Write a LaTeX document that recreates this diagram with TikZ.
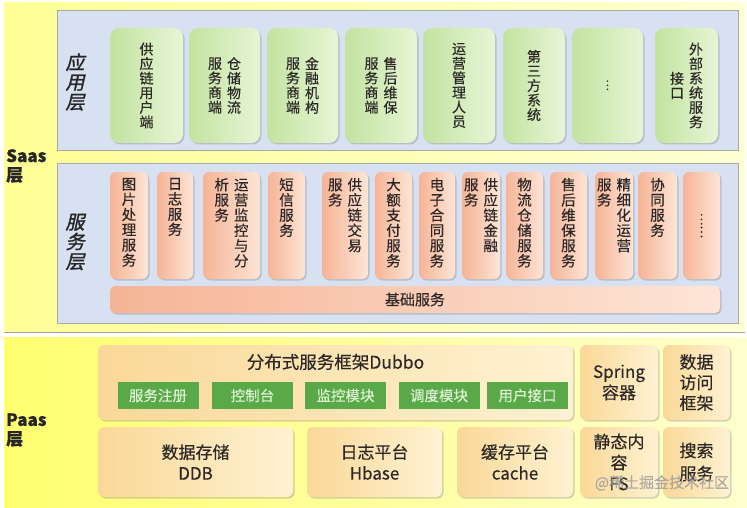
\documentclass[tikz,border=0pt]{standalone}
\usepackage{fontspec}
\setmainfont{Noto Sans CJK SC}[FakeBold=0.4]
\newfontfamily\layerfont[FakeSlant=0.22,FakeBold=1.5]{Noto Sans CJK SC}
\usetikzlibrary{shadows}

\definecolor{saasA}{HTML}{FFFF96}
\definecolor{saasB}{HTML}{FFFFD4}
\definecolor{paasA}{HTML}{FFFF70}
\definecolor{paasB}{HTML}{FFFFD0}
\definecolor{panelfill}{HTML}{D8E1F1}
\definecolor{panelline}{HTML}{A4ACA4}
\definecolor{appA}{HTML}{C3E3A0}
\definecolor{appB}{HTML}{E7F5D6}
\definecolor{svcA}{HTML}{F6B496}
\definecolor{svcB}{HTML}{FDE5D7}
\definecolor{pboxA}{HTML}{FAD898}
\definecolor{pboxB}{HTML}{FFF2D2}
\definecolor{modgreen}{HTML}{5AA948}
\definecolor{modtext}{HTML}{DDF2D2}
\definecolor{txtgray}{HTML}{2C2828}

\makeatletter
\def\vc@loop#1{\ifx#1\relax\else\hbox to 1em{\hss#1\hss}\expandafter\vc@loop\fi}
\newcommand\vmid[1]{$\vcenter{\baselineskip=1.04em\vc@loop#1\relax}$}
\newcommand\vtopc[1]{\vtop{\baselineskip=1.05em\vc@loop#1\relax}}
\makeatother

\begin{document}
\begin{tikzpicture}[x=1pt, y=-1pt,
  shade/.style={drop shadow={shadow xshift=1.5pt, shadow yshift=-1.5pt, opacity=0.35}},
  panel/.style={fill=panelfill, draw=panelline, line width=0.8pt},
  appbox/.style={shade, rounded corners=9pt, left color=appA, right color=appB, inner sep=0pt,
    minimum height=115pt, text=txtgray, font=\fontsize{14}{14.5}\selectfont},
  svcbox/.style={shade, rounded corners=6pt, left color=svcA, right color=svcB, inner sep=0pt,
    minimum height=107pt, text=txtgray, font=\fontsize{14.5}{15.3}\selectfont},
  svctext/.style={inner sep=0pt, text=txtgray, font=\fontsize{14.5}{15.3}\selectfont},
  pbox/.style={shade, rounded corners=6pt, left color=pboxA, right color=pboxB, inner sep=0pt,
    align=center, text=txtgray, font=\fontsize{17}{21}\selectfont},
  module/.style={fill=modgreen, minimum width=81pt, minimum height=27pt, inner sep=0pt,
    text=modtext, font=\fontsize{14.5}{15}\selectfont},
  layerlbl/.style={inner sep=0pt, text=black!85, font=\fontsize{19}{21}\selectfont\layerfont},
  zonelbl/.style={inner sep=0pt, align=left, text=black!85, font=\fontsize{17}{19}\selectfont\bfseries}]

\fill[white] (0,0) rectangle (747,508);
\useasboundingbox (0,0) rectangle (747,508);

\fill[left color=saasA, right color=saasB] (4,3) rectangle (745,332);
\draw[gray!75, line width=1pt] (4,332) -- (745,332);
\fill[left color=paasA, right color=paasB] (4,337) rectangle (747,508);

\node[zonelbl, anchor=west] (saas) at (6,166) {Saas\\层};
\node[zonelbl, anchor=west] (paas) at (6,430) {Paas\\层};

\draw[panel] (57,10) rectangle (738,150);
\draw[panel] (57,163) rectangle (738,323);

\node[layerlbl] (applbl) at (75,82) {\vmid{应用层}};
\node[layerlbl] (svclbl) at (75,242) {\vmid{服务层}};

\foreach \c/\w/\txt [count=\i] in {
  146.5/73/{\vmid{供应链用户端}},
  224.5/71/{\vmid{服务商端}\hspace{5pt}\vmid{仓储物流}},
  302.5/71/{\vmid{服务商端}\hspace{5pt}\vmid{金融机构}},
  381/72/{\vmid{服务商端}\hspace{5pt}\vmid{售后维保}},
  459/72/{\vmid{运营管理人员}},
  534/62/{\vmid{第三方系统}},
  607.5/71/{\rotatebox{90}{\fontsize{11}{11}\selectfont …}},
  686.5/63/{\vmid{接口}\hspace{5pt}\vmid{外部系统服务}}}
  \node[appbox, minimum width=\w pt] (a\i) at (\c,85.5) {\txt};

\foreach \c/\w/\txt [count=\i] in {
  129/38/{\vtopc{图片处理服务}},
  175/36/{\vtopc{日志服务}},
  231.5/57/{\vtopc{析服务}\hspace{5pt}\vtopc{运营监控与分}},
  286.5/37/{\vtopc{短信服务}},
  345/46/{\vtopc{服务}\hspace{5pt}\vtopc{供应链交易}},
  393.5/37/{\vtopc{大额支付服务}},
  437/36/{\vtopc{电子合同服务}},
  481/38/{\vtopc{服务}\hspace{5pt}\vtopc{供应链金融}},
  524.5/37/{\vtopc{物流仓储服务}},
  568.5/37/{\vtopc{售后维保服务}},
  614/38/{\vtopc{服务}\hspace{5pt}\vtopc{精细化运营}},
  657.5/39/{\vtopc{协同服务}}}
{
  \node[svcbox, minimum width=\w pt] (s\i) at (\c,225.5) {};
  \node[svctext, anchor=north] (st\i) at ([yshift=-6pt]s\i.north) {\txt};
}
\node[svcbox, minimum width=37pt] (s13) at (701.5,225.5) {\rotatebox{-90}{\fontsize{12}{12}\selectfont ……}};
\node[svcbox, minimum width=610pt, minimum height=27pt, rounded corners=5pt,
  font=\fontsize{15}{15}\selectfont] (base) at (415,299.5) {基础服务};

\node[pbox, minimum width=475pt, minimum height=75pt] (dubbo) at (335.5,382.5) {};
\node[inner sep=0pt, text=txtgray, font=\fontsize{17.5}{20}\selectfont] (dubbottl) at (335.5,362) {分布式服务框架Dubbo};
\foreach \c/\txt [count=\i] in {158/服务注册, 252.5/控制台, 345.5/监控模块, 439/调度模块, 527.5/用户接口}
  \node[module] (m\i) at (\c,395.5) {\txt};

\node[pbox, minimum width=195pt, minimum height=70pt] (ddb) at (195.5,462) {数据存储\\DDB};
\node[pbox, minimum width=135pt, minimum height=70pt] (hbase) at (374.5,462) {日志平台\\Hbase};
\node[pbox, minimum width=116pt, minimum height=70pt] (cache) at (515,462) {缓存平台\\cache};
\node[pbox, minimum width=78pt, minimum height=75pt] (spring) at (619,382.5) {Spring\\容器};
\node[pbox, minimum width=67pt, minimum height=75pt, font=\fontsize{17}{20.5}\selectfont] (dao) at (696.5,382.5) {数据\\访问\\框架};
\node[pbox, minimum width=78pt, minimum height=70pt, font=\fontsize{17}{21}\selectfont] (fs) at (619,462) {静态内\\容\\FS};
\node[pbox, minimum width=67pt, minimum height=70pt, font=\fontsize{17}{23}\selectfont] (search) at (696.5,462) {搜索\\服务};

\node[inner sep=0pt, text=gray!80, opacity=0.75, font=\fontsize{15}{15}\selectfont] (mark) at (662,483) {@稀土掘金技术社区};

\end{tikzpicture}
\end{document}
